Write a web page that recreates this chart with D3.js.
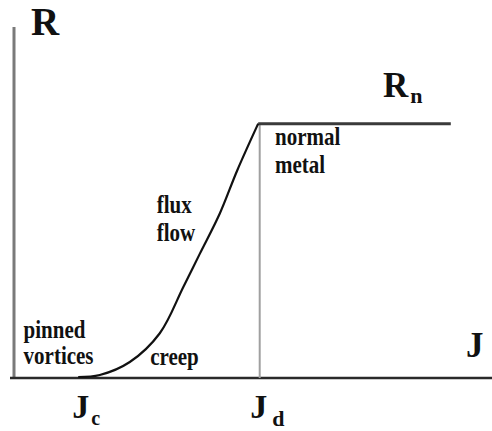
<!DOCTYPE html>
<html>
<head>
<meta charset="utf-8">
<script src="https://cdn.jsdelivr.net/npm/d3@7"></script>
<style>
  html, body { margin: 0; padding: 0; background: #fff; }
  svg { display: block; }
  text { font-family: "Liberation Serif", "Times New Roman", serif; font-weight: bold; fill: #111; }
</style>
</head>
<body>
<svg id="chart" width="492" height="431"></svg>
<script>
// Resistance vs. current density: pinned vortices -> creep -> flux flow -> normal metal
const curveJ = [1.07, 1.43, 1.93, 2.43, 2.82, 3.10, 3.43, 3.72, 4.07];
const curveR = [0.004, 0.012, 0.063, 0.176, 0.357, 0.49, 0.647, 0.816, 1.0];
const Jc = 1.07;
const Jd = 4.07;
const Rn = 1.0;
const Jmax = 7.28;          // end of the normal-state plateau
const regimeLabels = [
  { lines: ["pinned", "vortices"], J: 0.16, R: 0.157, gap: 26 },
  { lines: ["creep"], J: 2.27, R: 0.051, gap: 0 },
  { lines: ["flux", "flow"], J: 2.38, R: 0.649, gap: 28 },
  { lines: ["normal", "metal"], J: 4.35, R: 0.916, gap: 28 }
];

const svg = d3.select("#chart");
const x = d3.scaleLinear().domain([0, 8]).range([14, 494]);
const y = d3.scaleLinear().domain([0, 1.38]).range([378, 27]);

// y axis (R)
svg.append("line")
  .attr("x1", x(0)).attr("x2", x(0))
  .attr("y1", y(1.38)).attr("y2", y(0))
  .attr("stroke", "#7a7a7a").attr("stroke-width", 3);

// x axis (J)
svg.append("line")
  .attr("x1", 10).attr("x2", 492)
  .attr("y1", y(0)).attr("y2", y(0))
  .attr("stroke", "#2a2a2a").attr("stroke-width", 2.5);

// vertical marker at Jd
svg.append("line")
  .attr("x1", x(Jd) + 1.5).attr("x2", x(Jd) + 1.5)
  .attr("y1", y(Rn)).attr("y2", y(0))
  .attr("stroke", "#a0a0a0").attr("stroke-width", 2);

// normal-state plateau
svg.append("line")
  .attr("x1", x(Jd)).attr("x2", x(Jmax))
  .attr("y1", y(Rn)).attr("y2", y(Rn))
  .attr("stroke", "#3a3a3a").attr("stroke-width", 3);

// R(J) transition curve
const pts = curveJ.map((j, i) => [x(j), y(curveR[i])]);
svg.append("path")
  .attr("d", d3.line().curve(d3.curveCatmullRom.alpha(0.5))(pts))
  .attr("fill", "none").attr("stroke", "#111").attr("stroke-width", 2.2);

// axis titles
svg.append("text").attr("x", 31).attr("y", 35).attr("font-size", 39).text("R");
svg.append("text").attr("x", 466).attr("y", 357).attr("font-size", 35).text("J");

// Rn label
const rn = svg.append("text").attr("x", 383).attr("y", 97).attr("font-size", 35);
rn.append("tspan").text("R");
rn.append("tspan").attr("font-size", 22).attr("dy", 6).attr("dx", 2).text("n");

// Jc and Jd tick labels
const jc = svg.append("text").attr("x", x(Jc) - 6).attr("y", 418).attr("font-size", 34);
jc.append("tspan").text("J");
jc.append("tspan").attr("font-size", 20).attr("dy", 7).attr("dx", 2).text("c");
const jd = svg.append("text").attr("x", x(Jd) - 8).attr("y", 418).attr("font-size", 34);
jd.append("tspan").text("J");
jd.append("tspan").attr("font-size", 22).attr("dy", 8).attr("dx", 5).text("d");

// regime labels (tall, narrow lettering)
const vs = 1.22;
regimeLabels.forEach(d => {
  const t = svg.append("text").attr("font-size", 21)
    .attr("transform", `translate(${x(d.J)},${y(d.R)}) scale(1,${vs})`);
  d.lines.forEach((s, i) => {
    t.append("tspan").attr("x", 0).attr("y", i * d.gap / vs).text(s);
  });
});
</script>
</body>
</html>
